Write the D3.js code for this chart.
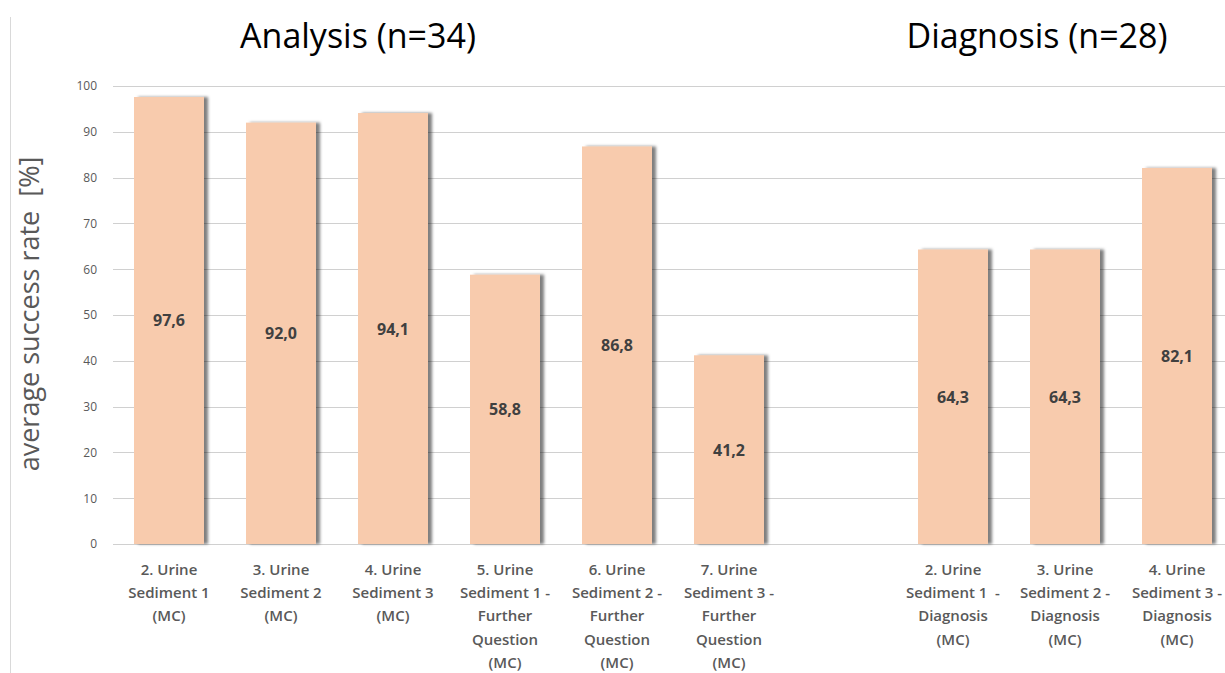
<!DOCTYPE html>
<html>
<head>
<meta charset="utf-8">
<script src="https://cdn.jsdelivr.net/npm/d3@7"></script>
<style>
  body { margin: 0; background: #fff; }
  svg text { font-family: "Open Sans", "Liberation Sans", sans-serif; white-space: pre; }
</style>
</head>
<body>
<div id="chart"></div>
<script>
// Categories (an empty slot separates the two groups)
const categories = [
  "2. Urine|Sediment 1|(MC)",
  "3. Urine|Sediment 2|(MC)",
  "4. Urine|Sediment 3|(MC)",
  "5. Urine|Sediment 1 -|Further|Question|(MC)",
  "6. Urine|Sediment 2 -|Further|Question|(MC)",
  "7. Urine|Sediment 3 -|Further|Question|(MC)",
  "",
  "2. Urine|Sediment 1  -|Diagnosis|(MC)",
  "3. Urine|Sediment 2 -|Diagnosis|(MC)",
  "4. Urine|Sediment 3 -|Diagnosis|(MC)"
]
const values = [97.6, 92.0, 94.1, 58.8, 86.8, 41.2, null, 64.3, 64.3, 82.1]
const yTicks = [0, 10, 20, 30, 40, 50, 60, 70, 80, 90, 100]
const groupTitles = ["Analysis (n=34)", "Diagnosis (n=28)"]

const width = 1225
const height = 673
const margin = { top: 86, left: 113, bottom: 129 }

const svg = d3.select("#chart")
    .append("svg")
    .attr("width", width)
    .attr("height", height)

// bar shadow
const defs = svg.append("defs")
const filter = defs.append("filter").attr("id", "shadow")
    .attr("x", "-10%").attr("y", "-5%").attr("width", "130%").attr("height", "110%")
filter.append("feDropShadow")
    .attr("dx", 4).attr("dy", 0).attr("stdDeviation", 1.6)
    .attr("flood-color", "#000").attr("flood-opacity", 0.5)

const data = categories.map((c, i) => ({ cat: i, label: c, value: values[i] }))

const xScale = d3.scaleBand()
    .domain(data.map(d => d.cat))
    .range([margin.left, margin.left + 112 * categories.length])
    .paddingInner(0.375)
    .paddingOuter(0.1875)

const yScale = d3.scaleLinear()
    .domain([0, 100])
    .range([height - margin.bottom, margin.top])

// left border line
svg.append("line")
    .attr("x1", 10.5).attr("x2", 10.5)
    .attr("y1", 17).attr("y2", height)
    .attr("stroke", "#d9d9d9")

// gridlines
svg.append("g")
    .selectAll("line")
    .data(yTicks)
    .enter()
    .append("line")
    .attr("x1", margin.left)
    .attr("x2", width)
    .attr("y1", d => Math.round(yScale(d)) + 0.5)
    .attr("y2", d => Math.round(yScale(d)) + 0.5)
    .attr("stroke", "#d0d0d0")
    .attr("stroke-width", 1)

// y axis
const yAxis = d3.axisLeft(yScale).tickValues(yTicks).tickSize(0).tickPadding(16)
const yG = svg.append("g")
    .attr("transform", "translate(" + margin.left + ",0)")
    .call(yAxis)
yG.select(".domain").remove()
yG.selectAll("text")
    .attr("fill", "#595959")
    .style("font-size", "12px")

// bars
const bars = data.filter(d => d.value != null)
svg.selectAll("rect.bar")
    .data(bars)
    .enter()
    .append("rect")
    .attr("class", "bar")
    .attr("x", d => xScale(d.cat))
    .attr("y", d => yScale(d.value))
    .attr("width", xScale.bandwidth())
    .attr("height", d => yScale(0) - yScale(d.value))
    .attr("fill", "#f8cbad")
    .attr("filter", "url(#shadow)")

// value labels
svg.selectAll("text.val")
    .data(bars)
    .enter()
    .append("text")
    .attr("class", "val")
    .attr("x", d => xScale(d.cat) + xScale.bandwidth() / 2)
    .attr("y", d => (yScale(d.value) + yScale(0)) / 2 + 6)
    .attr("text-anchor", "middle")
    .attr("fill", "#404040")
    .style("font-size", "16px")
    .style("font-weight", "bold")
    .text(d => d.value.toFixed(1).replace(".", ","))

// category labels
const catLabels = svg.selectAll("text.cat")
    .data(data.filter(d => d.label))
    .enter()
    .append("text")
    .attr("class", "cat")
    .attr("text-anchor", "middle")
    .attr("fill", "#595959")
    .style("font-size", "15px")
    .style("font-weight", "600")
catLabels.selectAll("tspan")
    .data(d => d.label.split("|").map(t => ({ t, x: xScale(d.cat) + xScale.bandwidth() / 2 })))
    .enter()
    .append("tspan")
    .attr("x", d => d.x)
    .attr("y", (d, i) => 575 + i * 23.2)
    .text(d => d.t)

// group titles
const titleX = [358, 1037]
svg.selectAll("text.title")
    .data(groupTitles)
    .enter()
    .append("text")
    .attr("class", "title")
    .attr("x", (d, i) => titleX[i])
    .attr("y", 48)
    .attr("text-anchor", "middle")
    .attr("fill", "#000")
    .style("font-size", "34px")
    .text(d => d)

// y axis label
svg.append("text")
    .attr("transform", "translate(39,314) rotate(-90)")
    .attr("text-anchor", "middle")
    .attr("fill", "#595959")
    .style("font-size", "27px")
    .text("average success rate  [%]")
</script>
</body>
</html>
